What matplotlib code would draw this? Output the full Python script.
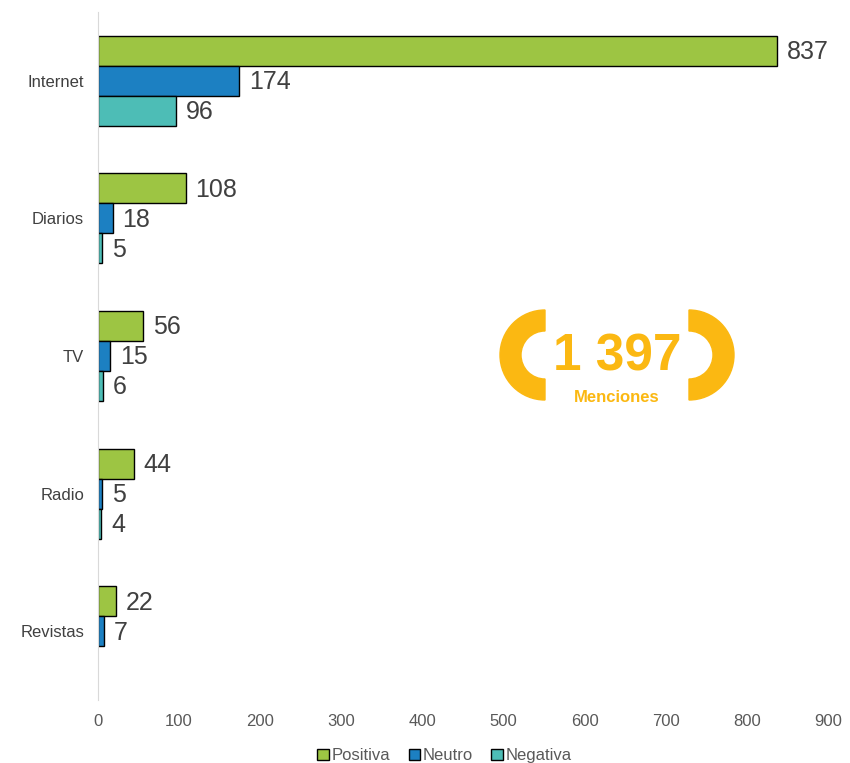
import numpy as np
import matplotlib.pyplot as plt
from matplotlib.patches import Wedge

plt.rcParams['font.family'] = ['Liberation Sans', 'DejaVu Sans']

# data
categories = ['Internet', 'Diarios', 'TV', 'Radio', 'Revistas']
positiva = [837, 108, 56, 44, 22]
neutro = [174, 18, 15, 5, 7]
negativa = [96, 5, 6, 4, 0]
series_names = ['Positiva', 'Neutro', 'Negativa']
colors = ['#9DC543', '#1C80C2', '#4DBDB6']
total_text = '1 397'
total_label = 'Menciones'

fig = plt.figure(figsize=(8.5, 7.63), dpi=100)
ax = fig.add_axes([98 / 850, 1 - 700 / 763, 730 / 850, 688 / 763])

y = np.arange(len(categories))
h = 0.218
for i, (vals, name, c) in enumerate(zip([positiva, neutro, negativa], series_names, colors)):
    pos = y + (i - 1) * h
    lw = [1 if v > 0 else 0 for v in vals]
    ax.barh(pos, vals, height=h, color=c, edgecolor='black', linewidth=lw, label=name)
    for p, v in zip(pos, vals):
        if v > 0:
            ax.text(v + 12, p + 0.01, str(v), va='center', ha='left', fontsize=18, color='#404040')

ax.set_xlim(0, 900)
ax.set_ylim(len(categories) - 0.5, -0.5)
ax.set_yticks(y)
ax.set_yticklabels(categories, fontsize=12, color='#404040')
ax.set_xticks(np.arange(0, 1000, 100))
ax.tick_params(axis='x', labelsize=12, labelcolor='#595959', length=0, pad=10)
ax.tick_params(axis='y', length=0, pad=10)
for s in ['top', 'right', 'bottom']:
    ax.spines[s].set_visible(False)
ax.spines['left'].set_color('#D9D9D9')

leg = fig.legend(loc='lower center', bbox_to_anchor=(0.523, -0.02), ncol=3, frameon=False,
                 fontsize=12, handlelength=0.7, handleheight=0.7, handletextpad=0.15,
                 columnspacing=1.1)
for t in leg.get_texts():
    t.set_color('#595959')

# badge with total mentions
ov = fig.add_axes([0, 0, 1, 1])
ov.set_xlim(0, 850)
ov.set_ylim(763, 0)
ov.axis('off')
yellow = '#FBB812'
ov.add_patch(Wedge((545, 355), 45, 90, 270, width=21, color=yellow))
ov.add_patch(Wedge((689, 355), 45, -90, 90, width=21, color=yellow))
ov.text(617, 357, total_text, ha='center', va='center', fontsize=37, fontweight='bold', color=yellow)
ov.text(617, 397, total_label, ha='center', va='center', fontsize=12, fontweight='bold', color=yellow)

fig.savefig('out.png', dpi=100)
